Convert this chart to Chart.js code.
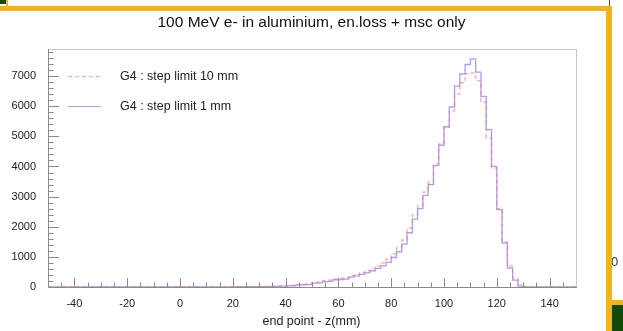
<!DOCTYPE html>
<html>
<head>
<meta charset="utf-8">
<script src="https://cdn.jsdelivr.net/npm/chart.js@4.4.1/dist/chart.umd.min.js"></script>
<style>
body{margin:0;background:#fff;font-family:"Liberation Sans",Arial,sans-serif;}
#wrap{position:relative;width:623px;height:331px;overflow:hidden;background:#fff;}
#c{position:absolute;left:0;top:0;}
.bar{position:absolute;background:#f2b418;}
.dark{position:absolute;background:#124a0c;}
#title{position:absolute;left:0;top:13px;width:623px;text-align:center;font-size:15.5px;color:#111;}
#xtitle{position:absolute;left:0;top:314px;width:623px;text-align:center;font-size:12.5px;color:#222;}
#frag{position:absolute;left:611px;top:254px;font-size:13px;color:#333;}
</style>
</head>
<body>
<div id="wrap">
<canvas id="c" width="623" height="331"></canvas>
<div id="title">100 MeV e- in aluminium, en.loss + msc only</div>
<div id="xtitle">end point - z(mm)</div>
<div id="frag">0</div>
<div class="bar" style="left:0;top:6px;width:612px;height:5px"></div>
<div class="bar" style="left:606px;top:6px;width:6px;height:325px"></div>
<div class="bar" style="left:606px;top:300px;width:17px;height:5px"></div>
<div class="dark" style="left:612px;top:305px;width:11px;height:26px"></div>
<div class="dark" style="left:0;top:0;width:6px;height:4px"></div>
<div class="bar" style="left:6px;top:0;width:2px;height:6px"></div>
<div style="position:absolute;left:609px;top:0;width:1px;height:6px;background:#555"></div>
</div>
<script>

// histogram binning (mm)
const xMin=-50, xMax=150;
const firstBin=10, binWidth=2;

// labelled axis ticks
const xTicks=[-40,-20,0,20,40,60,80,100,120,140];
const yTicks=[0,1000,2000,3000,4000,5000,6000,7000];

const labels=["G4 : step limit 10 mm","G4 : step limit 1 mm"];

// counts per 2 mm bin, starting at z = 10 mm
const step10=[3,4,5,6,7,8,9,10,12,13,
15,18,22,28,32,40,50,80,90,100,
150,160,210,230,270,290,310,380,420,480,
540,620,700,800,920,1100,1300,1560,1950,2400,
2700,3150,3475,4080,4750,5300,5850,6400,6780,7080,
7110,6850,6140,4950,3950,2600,1500,700,300,70,
10];

const step1=[2,3,4,5,6,7,8,9,10,11,
12,15,18,22,28,35,42,70,75,80,
130,135,180,190,240,245,260,330,370,420,
470,540,620,700,820,980,1170,1420,1800,2250,
2600,3040,3400,4030,4705,5320,5975,6665,7070,7385,
7575,7130,6330,5225,4005,2570,1460,630,230,30,
5];

// one point per bin low edge; the level holds until the next edge
function histPoints(vals){
const pts=[{x:xMin,y:0}];
vals.forEach((v,i)=>pts.push({x:firstBin+i*binWidth,y:v}));
pts.push({x:firstBin+vals.length*binWidth,y:0});
pts.push({x:xMax,y:0});
return pts;
}

// inward ROOT-style ticks, frame and legend
const frame={
id:'frame',
afterDraw(chart){
const ctx=chart.ctx;
const a=chart.chartArea;
const xs=chart.scales.x, ys=chart.scales.y;
ctx.save();
ctx.lineWidth=1;
ctx.strokeStyle='#c8c8c8';
ctx.strokeRect(a.left+0.5,a.top+0.5,a.right-a.left,a.bottom-a.top);
ctx.strokeStyle='#8a8a8a';
ctx.beginPath();
ctx.moveTo(a.left+0.5,a.top);ctx.lineTo(a.left+0.5,a.bottom+0.5);
ctx.lineTo(a.right+1,a.bottom+0.5);
for(let v=-45;v<=145;v+=5){
const px=Math.round(xs.getPixelForValue(v))+0.5;
const len=(v%20===0)?9:4.5;
ctx.moveTo(px,a.bottom);ctx.lineTo(px,a.bottom-len);
}
for(let v=200;v<=7800;v+=200){
const py=Math.round(ys.getPixelForValue(v))+0.5;
const len=(v%1000===0)?11:5.5;
ctx.moveTo(a.left,py);ctx.lineTo(a.left+len,py);
}
ctx.stroke();

// legend
chart.data.datasets.forEach((ds,i)=>{
const y=76+i*30+0.5;
ctx.strokeStyle=ds.borderColor;
ctx.lineWidth=1.2;
ctx.setLineDash(ds.borderDash||[]);
ctx.beginPath();ctx.moveTo(68,y);ctx.lineTo(101,y);ctx.stroke();
ctx.setLineDash([]);
ctx.fillStyle='#222';
ctx.font='12.5px "Liberation Sans", Arial, sans-serif';
ctx.textBaseline='middle';
ctx.fillText(ds.label,120,y);
});
ctx.restore();
}
};

new Chart(document.getElementById('c'),{
type:'line',
data:{
datasets:[{
label:labels[0],
data:histPoints(step10),
borderColor:'rgba(255,110,110,0.6)',
borderDash:[4,3],
borderWidth:1.3
},{
label:labels[1],
data:histPoints(step1),
borderColor:'rgba(100,100,255,0.6)',
borderWidth:1.3
}]
},
options:{
responsive:false,
animation:false,
devicePixelRatio:1,
elements:{point:{radius:0},line:{tension:0,stepped:'before'}},
layout:{padding:{top:49,right:47,left:0,bottom:0}},
plugins:{legend:{display:false},title:{display:false},tooltip:{enabled:false}},
scales:{
x:{
type:'linear',
min:xMin,max:xMax,
grid:{display:false,drawTicks:false},
border:{display:false},
afterFit:s=>{s.height=44;},
afterBuildTicks:s=>{s.ticks=xTicks.map(v=>({value:v}));},
ticks:{autoSkip:false,padding:10,color:'#222',maxRotation:0,
callback:v=>String(v),
font:{size:11,family:'"Liberation Sans", Arial, sans-serif'}}
},
y:{
min:0,max:7900,
grid:{display:false,drawTicks:false},
border:{display:false},
afterFit:s=>{s.width=48;},
afterBuildTicks:s=>{s.ticks=yTicks.map(v=>({value:v}));},
ticks:{autoSkip:false,padding:12,color:'#222',
callback:v=>String(v),
font:{size:11,family:'"Liberation Sans", Arial, sans-serif'}}
}
}
},
plugins:[frame]
});
</script>
</body>
</html>
